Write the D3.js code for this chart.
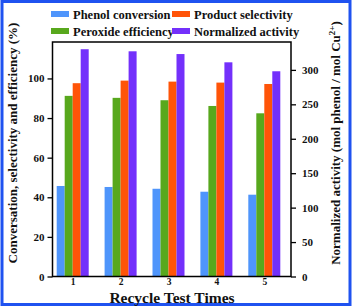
<!DOCTYPE html>
<html>
<head>
<meta charset="utf-8">
<script src="https://cdn.jsdelivr.net/npm/d3@7"></script>
<style>
  body { margin: 0; background: #fff; }
  svg text { font-family: "Liberation Serif", "Times New Roman", serif; font-weight: bold; fill: #111; }
</style>
</head>
<body>
<svg id="chart" width="353" height="308"></svg>
<script>
// recycle runs
let runs = ['1', '2', '3', '4', '5'];
// left axis series (%)
let phenolConversion = [45.7, 45.2, 44.3, 42.8, 41.3];
let peroxideEfficiency = [91.2, 90.2, 89.0, 86.1, 82.4];
let productSelectivity = [97.6, 98.9, 98.4, 97.9, 97.2];
// right axis series (mol phenol / mol Cu2+)
let normalizedActivity = [330, 327, 323, 311, 298];

let leftTicks = [0, 20, 40, 60, 80, 100];
let rightTicks = [0, 50, 100, 150, 200, 250, 300];

let seriesColors = {
    phenol: '#4f95fb',
    peroxide: '#58a81d',
    product: '#ff5408',
    normalized: '#7330fb'
};

let svg = d3.select('#chart');

// blue frame round the picture
svg.append('rect')
    .attr('x', 2).attr('y', 1.5)
    .attr('width', 348).attr('height', 303)
    .attr('fill', 'none')
    .attr('stroke', '#1f52f0')
    .attr('stroke-width', 3);

let plot = {left: 52.5, right: 291, top: 42, bottom: 276.5};

let xScale = d3.scalePoint()
    .domain(runs)
    .range([72.7, 264.3]);

let barOrder = ['phenol', 'peroxide', 'product', 'normalized'];
let xSub = d3.scaleBand()
    .domain(barOrder)
    .range([-16, 16]);

let yLeft = d3.scaleLinear()
    .domain([0, 118.4])
    .range([plot.bottom, plot.top]);

let yRight = d3.scaleLinear()
    .domain([0, 340.5])
    .range([plot.bottom, plot.top]);

// build rows for drawing
let bars = [];
runs.forEach((run, i) => {
    bars.push({run: run, key: 'phenol', value: phenolConversion[i], scale: yLeft});
    bars.push({run: run, key: 'peroxide', value: peroxideEfficiency[i], scale: yLeft});
    bars.push({run: run, key: 'product', value: productSelectivity[i], scale: yLeft});
    bars.push({run: run, key: 'normalized', value: normalizedActivity[i], scale: yRight});
});

svg.append('g')
    .selectAll('rect')
    .data(bars)
    .join('rect')
    .attr('x', d => xScale(d.run) + xSub(d.key))
    .attr('width', xSub.bandwidth())
    .attr('y', d => d.scale(d.value))
    .attr('height', d => d.scale(0) - d.scale(d.value))
    .attr('fill', d => seriesColors[d.key]);

// plot frame
svg.append('path')
    .attr('d', `M${plot.left},${plot.top}H${plot.right}V${plot.bottom}H${plot.left}Z`)
    .attr('fill', 'none')
    .attr('stroke', '#000')
    .attr('stroke-width', 1.5);

// left axis
let leftAxis = svg.append('g')
    .attr('transform', `translate(${plot.left},0)`)
    .call(d3.axisLeft(yLeft).tickValues(leftTicks).tickSize(5).tickPadding(3));
leftAxis.select('.domain').remove();
leftAxis.selectAll('text').style('font-size', '11px');
leftAxis.selectAll('line').attr('stroke-width', 1.3);

// right axis
let rightAxis = svg.append('g')
    .attr('transform', `translate(${plot.right},0)`)
    .call(d3.axisRight(yRight).tickValues(rightTicks).tickSize(5).tickPadding(6));
rightAxis.select('.domain').remove();
rightAxis.selectAll('text').style('font-size', '11px');
rightAxis.selectAll('line').attr('stroke-width', 1.3);

// bottom axis
let bottomAxis = svg.append('g')
    .attr('transform', `translate(0,${plot.bottom})`)
    .call(d3.axisBottom(xScale).tickSize(0).tickPadding(1.5));
bottomAxis.select('.domain').remove();
bottomAxis.selectAll('text').style('font-size', '9.5px');

// axis titles
svg.append('text')
    .attr('x', 172).attr('y', 302.5)
    .attr('text-anchor', 'middle')
    .style('font-size', '15.5px')
    .text('Recycle Test Times');

svg.append('text')
    .attr('transform', 'translate(17,143) rotate(-90)')
    .attr('text-anchor', 'middle')
    .style('font-size', '13px')
    .text('Conversation, selectivity and efficiency (%)');

let rightTitle = svg.append('text')
    .attr('transform', 'translate(340,143) rotate(-90)')
    .attr('text-anchor', 'middle')
    .style('font-size', '13px');
rightTitle.append('tspan').text('Normalized  activity (mol phenol / mol Cu');
rightTitle.append('tspan').attr('dy', -5).style('font-size', '9px').text('2+');
rightTitle.append('tspan').attr('dy', 5).text(')');

// legend
let legendItems = [
    {key: 'phenol', label: 'Phenol conversion', x: 51, y: 11},
    {key: 'product', label: 'Product selectivity', x: 172, y: 11},
    {key: 'peroxide', label: 'Peroxide efficiency', x: 51, y: 28},
    {key: 'normalized', label: 'Normalized activity', x: 172, y: 28}
];
let legend = svg.append('g')
    .selectAll('g')
    .data(legendItems)
    .join('g')
    .attr('transform', d => `translate(${d.x},${d.y})`);
legend.append('rect')
    .attr('width', 18).attr('height', 6)
    .attr('fill', d => seriesColors[d.key]);
legend.append('text')
    .attr('x', 22).attr('y', 7.5)
    .style('font-size', '12.5px')
    .text(d => d.label);
</script>
</body>
</html>
